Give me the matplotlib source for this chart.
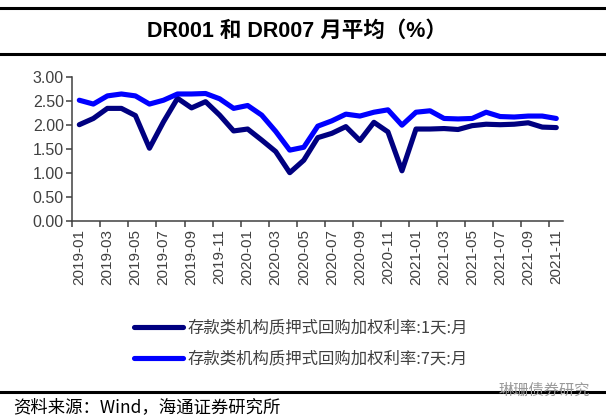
import matplotlib
matplotlib.use("Agg")
import matplotlib.pyplot as plt
import numpy as np
from matplotlib.lines import Line2D

plt.rcParams['font.family'] = ['Liberation Sans', 'Noto Sans CJK SC', 'DejaVu Sans']

months = [f"{y}-{m:02d}" for y in (2019, 2020, 2021) for m in range(1, 13)][:35]
dr001 = [2.00, 2.13, 2.34, 2.34, 2.19, 1.51, 2.06, 2.55, 2.35, 2.48,
         2.20, 1.87, 1.91, 1.68, 1.44, 1.00, 1.26, 1.73, 1.82, 1.96,
         1.67, 2.05, 1.85, 1.04, 1.91, 1.91, 1.92, 1.90, 1.98, 2.01,
         2.00, 2.01, 2.04, 1.95, 1.94]
dr007 = [2.51, 2.43, 2.60, 2.64, 2.60, 2.43, 2.51, 2.64, 2.64, 2.65,
         2.54, 2.34, 2.40, 2.20, 1.86, 1.47, 1.53, 1.97, 2.08, 2.22,
         2.18, 2.26, 2.31, 1.99, 2.26, 2.29, 2.13, 2.12, 2.13, 2.26,
         2.17, 2.16, 2.18, 2.18, 2.13]
series_names = ["存款类机构质押式回购加权利率:1天:月", "存款类机构质押式回购加权利率:7天:月"]
title = "DR001 和 DR007 月平均（%）"
source = "资料来源：Wind，海通证券研究所"
watermark = "琳珊债券研究"

W, H = 606, 418
fig = plt.figure(figsize=(W / 100, H / 100), dpi=100)
ax = fig.add_axes([72.3 / W, 1 - 220.7 / H, (563.3 - 72.3) / W, (220.7 - 76.7) / H])

x = np.arange(len(months))
grey = '#404040'
l1, = ax.plot(x, dr001, color='#000080', lw=3.7, solid_joinstyle='round', solid_capstyle='round')
l2, = ax.plot(x, dr007, color='#0000FF', lw=3.7, solid_joinstyle='round', solid_capstyle='round')

ax.set_xlim(-0.5, len(months) - 0.5)
ax.set_ylim(0, 3)
ax.set_yticks(np.arange(0, 3.01, 0.5))
ax.set_yticklabels([f"{v:.2f}" for v in np.arange(0, 3.01, 0.5)])
ax.set_xticks(np.arange(-0.5, len(months) - 0.5, 2))
ax.set_xticklabels([])
ax.set_xticks(x[::2], minor=True)
ax.set_xticklabels(months[::2], minor=True, rotation=90)
ax.tick_params(axis='x', which='major', length=4, width=1.1, color=grey, direction='out')
ax.tick_params(axis='x', which='minor', length=0, pad=6, labelsize=11, labelcolor=grey)
ax.tick_params(axis='y', length=4, width=1.1, color=grey, labelsize=11.5, labelcolor=grey, pad=2)
for s in ('top', 'right'):
    ax.spines[s].set_visible(False)
for s in ('left', 'bottom'):
    ax.spines[s].set_color(grey)
    ax.spines[s].set_linewidth(1.1)

leg = fig.legend([l1, l2], series_names, loc='upper left',
                 bbox_to_anchor=(119 / W, 1 - 305 / H), frameon=False,
                 handlelength=3.0, handletextpad=0.3, labelspacing=0.85,
                 prop={'family': ['Noto Sans CJK SC', 'DejaVu Sans'], 'size': 11.8})
for t in leg.get_texts():
    t.set_color(grey)

fig.add_artist(Line2D([0, 1], [1 - 7.7 / H, 1 - 7.7 / H], color='black', lw=2.2, transform=fig.transFigure))
fig.add_artist(Line2D([0, 1], [1 - 54 / H, 1 - 54 / H], color='black', lw=2.2, transform=fig.transFigure))
fig.add_artist(Line2D([0, 1], [1 - 392 / H, 1 - 392 / H], color='black', lw=2.2, transform=fig.transFigure))
fig.text(297 / W, 1 - 31 / H, title, ha='center', va='center', fontsize=15.5, fontweight='bold',
         family=['Liberation Sans', 'Noto Sans CJK SC'])
fig.text(13 / W, 1 - 407 / H, source, ha='left', va='center', fontsize=12.5,
         family=['Noto Sans CJK SC', 'DejaVu Sans'])
fig.text(590 / W, 1 - 390 / H, watermark, ha='right', va='center', fontsize=11, color='#9a9a9a',
         family=['Noto Sans CJK SC', 'DejaVu Sans'])

fig.savefig("out.png", dpi=100)
